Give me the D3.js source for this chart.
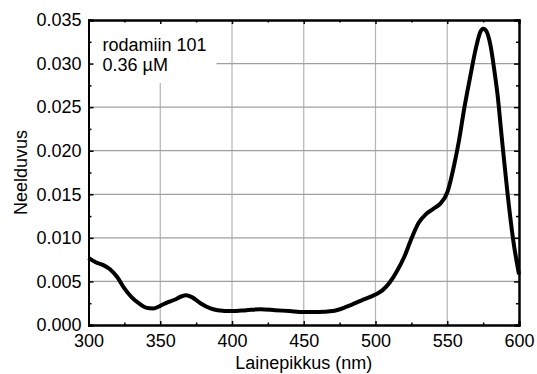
<!DOCTYPE html>
<html>
<head>
<meta charset="utf-8">
<script src="https://cdn.jsdelivr.net/npm/d3@7"></script>
<style>
  body { margin: 0; background: #fff; }
  text { font-family: "Liberation Sans", Arial, sans-serif; fill: #000; }
</style>
</head>
<body>
<div id="chart"></div>
<script>
// absorbance spectrum
const wavelengths = [300, 305, 310, 315, 320, 325, 330, 335, 340, 345, 350, 355, 360, 365, 368, 372, 378, 385, 390,
  400, 410, 420, 430, 440, 450, 460, 470, 480, 490, 500, 505, 510, 515, 520, 525, 530, 535, 540, 545, 550,
  555, 558, 562, 566, 570, 573, 575, 577, 580, 583, 585, 588, 592, 596, 600];
const absorbance = [0.0077, 0.0072, 0.0069, 0.0064, 0.0055, 0.0042, 0.0032, 0.0025, 0.0020, 0.0019, 0.0022, 0.0026, 0.0029, 0.0033, 0.0034, 0.0032, 0.0025, 0.0019, 0.0017,
  0.0016, 0.0017, 0.0018, 0.0017, 0.0016, 0.0015, 0.0015, 0.0016, 0.0021, 0.0028, 0.0035, 0.0040, 0.0049, 0.0062, 0.0078, 0.0099, 0.0117, 0.0127, 0.0133, 0.0139, 0.0152,
  0.0185, 0.0210, 0.0250, 0.0285, 0.0318, 0.0336, 0.0340, 0.0338, 0.0322, 0.0290, 0.0265, 0.0215, 0.0151, 0.0097, 0.0058];

const xTicks = [300, 350, 400, 450, 500, 550, 600];
const yTicks = [0, 0.005, 0.010, 0.015, 0.020, 0.025, 0.030, 0.035];
const legendLines = ["rodamiin 101", "0.36 \u00b5M"];

const W = 537, H = 374;
const margin = {top: 20, right: 18, bottom: 49, left: 88.5};
const width = W - margin.left - margin.right,
    height = H - margin.top - margin.bottom;

const svg = d3.select("#chart").append("svg")
  .attr("width", W)
  .attr("height", H)
  .append("g")
  .attr("transform", "translate(" + margin.left + "," + margin.top + ")");

const x = d3.scaleLinear().domain([300, 600]).range([0, width]);
const y = d3.scaleLinear().domain([0, 0.035]).range([height, 0]);

// grid
svg.append("g")
  .selectAll("line")
  .data(xTicks.slice(1, -1))
  .enter().append("line")
  .attr("x1", d => x(d)).attr("x2", d => x(d))
  .attr("y1", 0).attr("y2", height)
  .attr("stroke", "#b4b4b4").attr("stroke-width", 1.2);

svg.append("g")
  .selectAll("line")
  .data(yTicks.slice(1, -1))
  .enter().append("line")
  .attr("x1", 0).attr("x2", width)
  .attr("y1", d => y(d)).attr("y2", d => y(d))
  .attr("stroke", "#a0a0a0").attr("stroke-width", 1.2);

// legend box covers the grid
svg.append("rect")
  .attr("x", 0).attr("y", 0)
  .attr("width", 128).attr("height", 63)
  .attr("fill", "#fff");

svg.selectAll(".leg")
  .data(legendLines)
  .enter().append("text")
  .attr("class", "leg")
  .attr("x", 14)
  .attr("y", (d, i) => 31 + i * 20)
  .style("font-size", "18px")
  .text(d => d);

// spectrum
const pts = wavelengths.map((w, i) => ({w: w, a: absorbance[i]}));
const line = d3.line()
  .x(d => x(d.w))
  .y(d => y(d.a))
  .curve(d3.curveMonotoneX);

svg.append("path")
  .datum(pts)
  .attr("d", line)
  .attr("fill", "none")
  .attr("stroke", "#000")
  .attr("stroke-width", 4)
  .attr("stroke-linejoin", "round");

// axes with inward ticks
const xMinor = d3.range(325, 600, 50);
const yMinor = d3.range(0.0025, 0.035, 0.005);

svg.append("g")
  .attr("transform", `translate(0,${height})`)
  .call(d3.axisBottom(x).tickValues(xTicks).tickSize(-4).tickPadding(9).tickFormat(d3.format("d")));
svg.append("g")
  .call(d3.axisLeft(y).tickValues(yTicks).tickSize(-5).tickPadding(7).tickFormat(d3.format(".3f")));
svg.append("g")
  .call(d3.axisTop(x).tickValues(xTicks).tickSize(-4).tickFormat(""));
svg.append("g")
  .attr("transform", `translate(${width},0)`)
  .call(d3.axisRight(y).tickValues(yTicks).tickSize(-5).tickFormat(""));

svg.append("g").attr("transform", `translate(0,${height})`)
  .call(d3.axisBottom(x).tickValues(xMinor).tickSize(-2.5).tickFormat(""));
svg.append("g")
  .call(d3.axisTop(x).tickValues(xMinor).tickSize(-2.5).tickFormat(""));
svg.append("g")
  .call(d3.axisLeft(y).tickValues(yMinor).tickSize(-3).tickFormat(""));
svg.append("g").attr("transform", `translate(${width},0)`)
  .call(d3.axisRight(y).tickValues(yMinor).tickSize(-3).tickFormat(""));

svg.selectAll(".domain").attr("stroke", "#000").attr("stroke-width", 2);
svg.selectAll(".tick line").attr("stroke", "#000").attr("stroke-width", 1.5);
svg.selectAll(".tick text")
  .style("font-size", "18px")
  .style("font-family", "Liberation Sans, Arial, sans-serif");

// axis titles
svg.append("text")
  .attr("x", width / 2)
  .attr("y", height + 44)
  .attr("text-anchor", "middle")
  .style("font-size", "18px")
  .text("Lainepikkus (nm)");

svg.append("text")
  .attr("transform", "rotate(-90)")
  .attr("x", -height / 2)
  .attr("y", -62)
  .attr("text-anchor", "middle")
  .style("font-size", "18px")
  .text("Neelduvus");
</script>
</body>
</html>
